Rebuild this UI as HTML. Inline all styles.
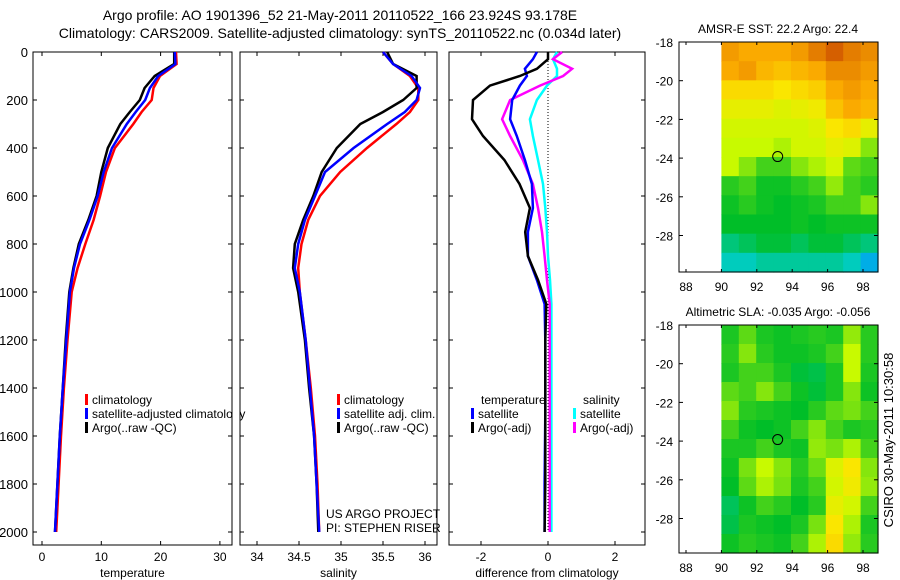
<!DOCTYPE html>
<html><head><meta charset="utf-8"><style>
body{margin:0;background:#fff;}
svg{display:block;font-family:"Liberation Sans",sans-serif;}
</style></head><body>
<svg id="c" width="900" height="580" viewBox="0 0 900 580" xmlns="http://www.w3.org/2000/svg">
<text x="340" y="20" font-size="14" text-anchor="middle">Argo profile: AO 1901396_52 21-May-2011 20110522_166 23.924S 93.178E</text>
<text x="340" y="38" font-size="14" text-anchor="middle">Climatology: CARS2009. Satellite-adjusted climatology: synTS_20110522.nc (0.034d later)</text>
<g id="g"></g>
<text transform="translate(893,440) rotate(-90)" font-size="13" text-anchor="middle">CSIRO 30-May-2011 10:30:58</text>
</svg>
<script>
// ---- data ----
const depthTicks=[0,200,400,600,800,1000,1200,1400,1600,1800,2000];
const depths=[0,50,100,150,200,250,300,400,500,600,700,800,900,1000,1200,1400,1600,1800,2000];
const tempClim=[22.6,22.7,19.9,18.8,18.5,16.8,15.4,12.3,10.8,9.8,8.7,7.3,6.0,5.0,4.3,3.7,3.2,2.8,2.4];
const tempSat =[22.4,22.5,19.6,18.2,17.4,15.8,14.3,11.8,10.4,9.4,8.0,6.4,5.4,4.7,4.1,3.5,3.0,2.6,2.2];
const tempArgo=[22.3,22.3,19.0,17.3,16.5,14.8,13.2,11.1,10.0,9.2,7.8,6.2,5.3,4.6,4.0,3.5,3.0,2.6,2.2];
const salClim=[35.5,35.62,35.82,35.92,35.92,35.82,35.66,35.31,34.99,34.75,34.61,34.53,34.49,34.51,34.58,34.64,34.69,34.72,34.74];
const salSat =[35.5,35.62,35.84,35.94,35.9,35.76,35.55,35.15,34.81,34.69,34.57,34.49,34.45,34.51,34.58,34.63,34.68,34.71,34.74];
const salArgo=[35.55,35.62,35.9,35.9,35.74,35.5,35.23,34.95,34.77,34.67,34.55,34.45,34.43,34.49,34.57,34.62,34.68,34.71,34.73];
const diffDepths=[0,30,70,100,140,200,280,350,450,550,650,750,850,950,1050,1200,1500,1800,2000];
const dTempArgo=[0,0,-0.33,-0.84,-1.73,-2.24,-2.27,-1.94,-1.3,-0.85,-0.54,-0.68,-0.6,-0.3,-0.05,-0.08,-0.08,-0.08,-0.1];
const dTempSat =[-0.33,-0.45,-0.69,-0.63,-0.84,-1.07,-1.13,-0.93,-0.69,-0.48,-0.45,-0.6,-0.6,-0.33,-0.1,-0.08,-0.08,-0.1,-0.1];
const dSalArgo =[0.42,0.15,0.72,0.45,-0.24,-1.13,-1.37,-1.13,-0.75,-0.45,-0.3,-0.18,-0.1,-0.03,0.05,0.05,0.05,0.05,0.05];
const dSalSat  =[0.27,0.15,0.27,0.27,-0.03,-0.33,-0.54,-0.45,-0.3,-0.15,-0.08,-0.03,0.0,0.06,0.1,0.1,0.1,0.1,0.1];
const tempTicks=[0,10,20,30];
const salTicks=[34,34.5,35,35.5,36];
const diffTicks=[-2,0,2];
const lonTicks=[88,90,92,94,96,98];
const latTicks=[-18,-20,-22,-24,-26,-28];
const sstGrid=[
[.82,.80,.80,.80,.82,.86,.90,.86,.84],[.80,.82,.78,.76,.78,.80,.84,.84,.82],
[.72,.72,.72,.70,.72,.74,.80,.82,.80],[.66,.66,.66,.64,.66,.68,.76,.80,.78],
[.62,.62,.62,.62,.62,.64,.70,.72,.66],[.60,.60,.60,.58,.62,.62,.66,.64,.55],
[.60,.55,.50,.50,.55,.58,.62,.52,.50],[.48,.50,.46,.46,.48,.50,.56,.50,.48],
[.46,.48,.46,.45,.46,.47,.50,.50,.55],[.45,.45,.45,.45,.46,.45,.46,.46,.46],
[.40,.42,.44,.44,.42,.44,.44,.42,.40],[.36,.36,.38,.38,.38,.38,.38,.36,.30]];
const slaGrid=[
[.47,.52,.47,.46,.47,.48,.47,.56,.48],[.48,.55,.48,.46,.46,.47,.50,.60,.48],
[.47,.50,.50,.47,.44,.43,.47,.60,.47],[.52,.50,.55,.50,.46,.44,.47,.55,.46],
[.55,.48,.47,.46,.45,.48,.52,.54,.50],[.50,.46,.45,.46,.50,.55,.50,.47,.48],
[.47,.47,.50,.47,.46,.56,.54,.58,.50],[.46,.54,.60,.55,.48,.53,.64,.70,.55],
[.45,.52,.58,.54,.47,.50,.62,.68,.56],[.42,.46,.50,.48,.45,.48,.66,.62,.50],
[.43,.47,.46,.45,.47,.54,.70,.58,.47],[.46,.48,.47,.46,.50,.58,.72,.56,.48]];
const argoLon=93.18, argoLat=-23.92;

const NS="http://www.w3.org/2000/svg", G=document.getElementById('g');
function mk(t,a,p){const e=document.createElementNS(NS,t);for(const k in a)e.setAttribute(k,a[k]);(p||G).appendChild(e);return e;}
const yTop=52,yBot=545,yD=d=>yTop+d*0.24;
function panel(x0,x1,xs,ticks,fmt,label,name){
  const f=mk('rect',{x:x0,y:yTop,width:x1-x0,height:yBot-yTop,fill:'none',stroke:'#000','stroke-width':1});
  
  
  ticks.forEach(t=>{const x=xs(t);
    mk('line',{x1:x,x2:x,y1:yBot,y2:yBot-4,stroke:'#000'});mk('line',{x1:x,x2:x,y1:yTop,y2:yTop+4,stroke:'#000'});
    const tx=mk('text',{x:x,y:yBot+16,'font-size':12,'text-anchor':'middle'});tx.textContent=fmt(t);
    
    });
  depthTicks.forEach(d=>{const y=yD(d);mk('line',{x1:x0,x2:x0+4,y1:y,y2:y,stroke:'#000'});mk('line',{x1:x1,x2:x1-4,y1:y,y2:y,stroke:'#000'});});
  const l=mk('text',{x:(x0+x1)/2,y:577,'font-size':12,'text-anchor':'middle'});l.textContent=label;
  
  
}
function line(xs,dep,vals,col,name){
  const pts=vals.map((v,i)=>xs(v).toFixed(1)+','+yD(dep[i]).toFixed(1)).join(' ');
  const p=mk('polyline',{points:pts,fill:'none',stroke:col,'stroke-width':2.5});
  
  
}
function legend(x,y,col,txt,name){
  mk('rect',{x:x,y:y-10,width:3,height:11,fill:col});
  const t=mk('text',{x:x+7,y:y,'font-size':12});t.textContent=txt;
  
  
}
depthTicks.forEach(d=>{const t=mk('text',{x:28,y:yD(d)+5,'font-size':13,'text-anchor':'end'});t.textContent=d;
  
  });
const xT=v=>42+v*5.93;
panel(33,232,xT,tempTicks,String,'temperature','temperature-panel');
line(xT,depths,tempClim,'#f00','temp-climatology-line');
line(xT,depths,tempArgo,'#000','temp-argo-line');
line(xT,depths,tempSat,'#00f','temp-satellite-line');
legend(85,404,'#f00','climatology','legend-climatology');
legend(85,418,'#00f','satellite-adjusted climatology','legend-satellite-adjusted');
legend(85,432,'#000','Argo(..raw -QC)','legend-argo');
mk('rect',{x:233,y:380,width:6,height:60,fill:'#fff'});
const xS=v=>257+(v-34)*84;
panel(240,437,xS,salTicks,String,'salinity','salinity-panel');
line(xS,depths,salClim,'#f00','sal-climatology-line');
line(xS,depths,salArgo,'#000','sal-argo-line');
line(xS,depths,salSat,'#00f','sal-satellite-line');
legend(337,404,'#f00','climatology','legend-sal-climatology');
legend(337,418,'#00f','satellite adj. clim.','legend-sal-satellite');
legend(337,432,'#000','Argo(..raw -QC)','legend-sal-argo');
[['US ARGO PROJECT',518],['PI: STEPHEN RISER',532]].forEach(([s,y])=>{const t=mk('text',{x:326,y:y,'font-size':12});t.textContent=s;
  
  });
const xDf=v=>548+v*33.5;
panel(449,645,xDf,diffTicks,String,'difference from climatology','difference-panel');
mk('line',{x1:xDf(0),x2:xDf(0),y1:yTop,y2:yD(2000),stroke:'#000','stroke-dasharray':'1,2'});
line(xDf,diffDepths,dSalSat,'#0ff','diff-sal-satellite-line');
line(xDf,diffDepths,dSalArgo,'#f0f','diff-sal-argo-line');
line(xDf,diffDepths,dTempSat,'#00f','diff-temp-satellite-line');
line(xDf,diffDepths,dTempArgo,'#000','diff-temp-argo-line');
[['temperature',481],['salinity',583]].forEach(([s,x])=>{const t=mk('text',{x:x,y:404,'font-size':12});t.textContent=s;
  
  });
legend(471,418,'#00f','satellite','legend-diff-temp-satellite');
legend(471,432,'#000','Argo(-adj)','legend-diff-temp-argo');
legend(573,418,'#0ff','satellite','legend-diff-sal-satellite');
legend(573,432,'#f0f','Argo(-adj)','legend-diff-sal-argo');
const stops=[[0.25,[0,140,255]],[0.35,[0,205,205]],[0.45,[0,190,40]],[0.6,[200,250,0]],[0.7,[250,230,0]],[0.8,[250,170,0]],[0.92,[205,80,0]]];
function cmap(v){if(v<=stops[0][0])return 'rgb('+stops[0][1]+')';
  for(let i=1;i<stops.length;i++){if(v<=stops[i][0]){const a=stops[i-1],b=stops[i],t=(v-a[0])/(b[0]-a[0]);
    return 'rgb('+a[1].map((c,k)=>Math.round(c+(b[1][k]-c)*t)).join(',')+')';}}
  return 'rgb('+stops[stops.length-1][1]+')';}
function map(top,bot,grid,title,name){
  const L=679,R=878,lx=v=>721.4+(v-90)*17.7,ly=v=>top+(-18-v)*19.35;
  const x0=lx(90),x1=R,rows=grid.length,cols=grid[0].length,cw=(x1-x0)/cols,ch=(bot-top)/rows;
  grid.forEach((r,i)=>r.forEach((v,j)=>{const c=mk('rect',{x:x0+j*cw,y:top+i*ch,width:cw+0.6,height:ch+0.6,fill:cmap(v)});
    
    }));
  const f=mk('rect',{x:L,y:top,width:R-L,height:bot-top,fill:'none',stroke:'#000'});
  
  
  lonTicks.forEach(v=>{const x=lx(v);mk('line',{x1:x,x2:x,y1:bot,y2:bot-3,stroke:'#000'});mk('line',{x1:x,x2:x,y1:top,y2:top+3,stroke:'#000'});
    const t=mk('text',{x:x,y:bot+19,'font-size':12,'text-anchor':'middle'});t.textContent=v;
    
    });
  latTicks.forEach(v=>{const y=ly(v);mk('line',{x1:L,x2:L+4,y1:y,y2:y,stroke:'#000'});mk('line',{x1:R,x2:R-4,y1:y,y2:y,stroke:'#000'});
    const t=mk('text',{x:L-6,y:y+5,'font-size':12,'text-anchor':'end'});t.textContent=v;
    
    });
  const c=mk('circle',{cx:lx(argoLon),cy:ly(argoLat),r:5,fill:'none',stroke:'#000'});
  
  
  const t=mk('text',{x:778,y:top-9,'font-size':12,'text-anchor':'middle'});t.textContent=title;
  
  
}
map(42,272,sstGrid,'AMSR-E SST: 22.2 Argo: 22.4','sst-map');
map(325,553,slaGrid,'Altimetric SLA: -0.035 Argo: -0.056','sla-map');
</script>
</body></html>
